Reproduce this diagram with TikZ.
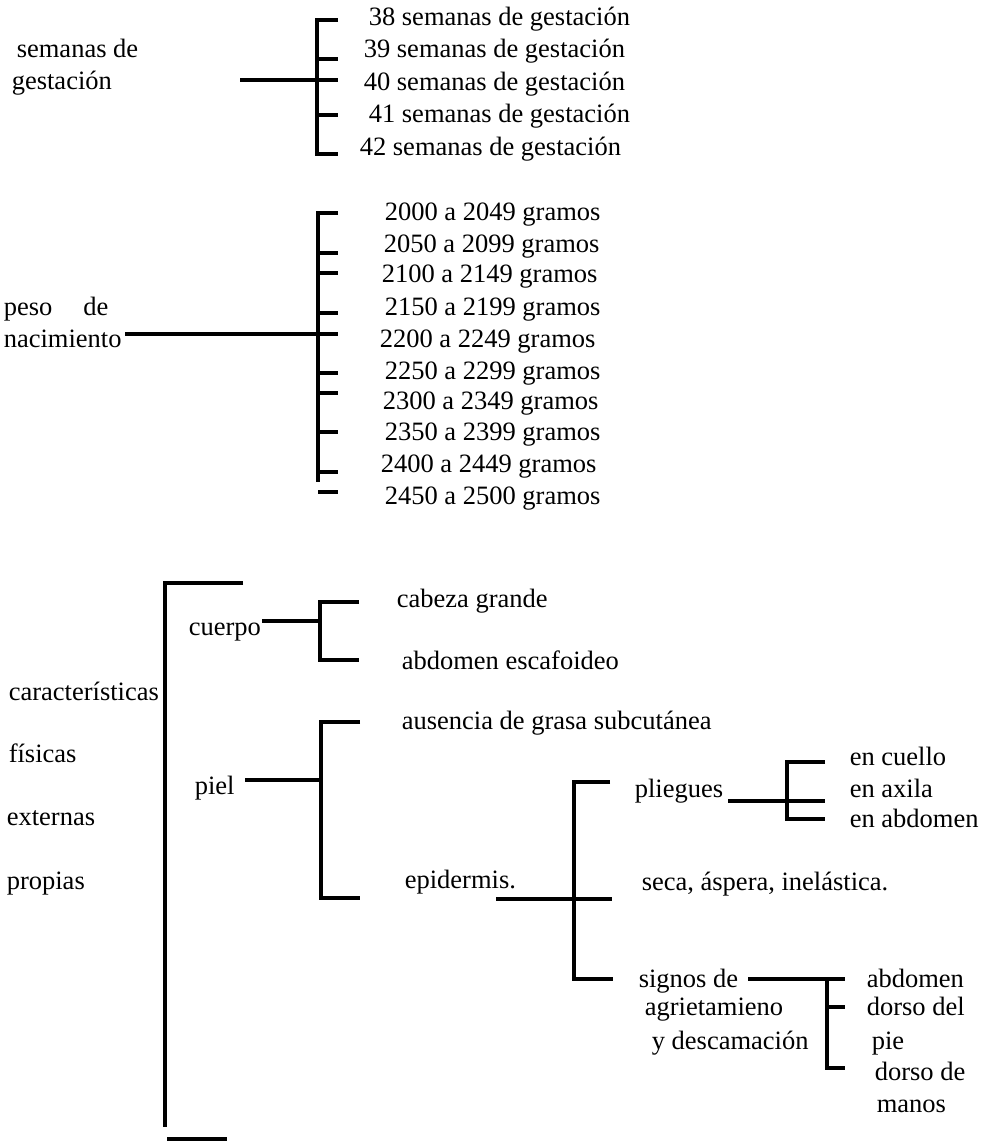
\documentclass[tikz,border=0pt]{standalone}
\usepackage{fontspec}
\setmainfont{Liberation Serif}
\begin{document}
\begin{tikzpicture}[x=1pt,y=-1pt,
  every path/.style={line width=3.6pt},
  lbl/.style={anchor=base west, inner sep=0pt, font=\fontsize{26.5}{30}\selectfont}]
\useasboundingbox (0,0) rectangle (985,1141);

% ---------- semanas de gestacion ----------
\node[lbl] (sg1) at (15,57) {semanas de};
\node[lbl] (sg2) at (10,89) {gestación};
\node[lbl] (w38) at (367,25) {38 semanas de gestación};
\node[lbl] (w39) at (362,57) {39 semanas de gestación};
\node[lbl] (w40) at (362,90) {40 semanas de gestación};
\node[lbl] (w41) at (367,122) {41 semanas de gestación};
\node[lbl] (w42) at (358,155) {42 semanas de gestación};
\coordinate (a0) at (240,80);
\coordinate (a1) at (317,20);
\coordinate (a2) at (317,154);
\draw (a0) -- (a0 -| a1) -- ++(21,0);
\draw (a1) ++(21,0) -- (a1) -- (a2) -- ++(21,0);
\draw (317,59) -- ++(21,0);
\draw (317,115) -- ++(21,0);

% ---------- peso de nacimiento ----------
\node[lbl] (pn1) at (2,315) {peso\hspace*{31pt}de};
\node[lbl] (pn2) at (2,347) {nacimiento};
\node[lbl] (g1) at (383,220) {2000 a 2049 gramos};
\node[lbl] (g2) at (382,252) {2050 a 2099 gramos};
\node[lbl] (g3) at (380,282) {2100 a 2149 gramos};
\node[lbl] (g4) at (383,315) {2150 a 2199 gramos};
\node[lbl] (g5) at (378,347) {2200 a 2249 gramos};
\node[lbl] (g6) at (383,379) {2250 a 2299 gramos};
\node[lbl] (g7) at (381,409) {2300 a 2349 gramos};
\node[lbl] (g8) at (383,440) {2350 a 2399 gramos};
\node[lbl] (g9) at (379,472) {2400 a 2449 gramos};
\node[lbl] (g10) at (383,504) {2450 a 2500 gramos};
\coordinate (b0) at (125,334);
\coordinate (b1) at (318,213);
\coordinate (b2) at (318,482);
\draw (b0) -- (b0 -| b1) -- ++(20,0);
\draw (b1) ++(20,0) -- (b1) -- (b2);
\foreach \yy in {253,273,313,373,393,432,472} \draw (318,\yy) -- ++(20,0);
\draw (318,492) -- ++(20,0);

% ---------- caracteristicas fisicas externas propias ----------
\node[lbl] (c1) at (7,700) {características};
\node[lbl] (c2) at (7,762) {físicas};
\node[lbl] (c3) at (5,825) {externas};
\node[lbl] (c4) at (5,889) {propias};
\coordinate (m1) at (165,583);
\coordinate (m2) at (165,1127);
\draw (m1) ++(78,0) -- (m1) -- (m2);
\draw (167,1139) -- (227,1139);

% cuerpo
\node[lbl] (cu) at (187,635) {cuerpo};
\node[lbl] (cb) at (395,607) {cabeza grande};
\node[lbl] (ab) at (400,669) {abdomen escafoideo};
\coordinate (cu0) at (262,621);
\coordinate (cu1) at (320,602);
\coordinate (cu2) at (320,660);
\draw (cu0) -- (cu0 -| cu1);
\draw (cu1) ++(39,0) -- (cu1) -- (cu2) -- ++(39,0);

% piel
\node[lbl] (pi) at (193,794) {piel};
\node[lbl] (au) at (400,729) {ausencia de grasa subcutánea};
\node[lbl] (ep) at (403,888) {epidermis.};
\coordinate (pi0) at (245,780);
\coordinate (pi1) at (321,722);
\coordinate (pi2) at (321,898);
\draw (pi0) -- (pi0 -| pi1);
\draw (pi1) ++(39,0) -- (pi1) -- (pi2) -- ++(39,0);

% epidermis
\node[lbl] (pl) at (633,797) {pliegues};
\node[lbl] (se) at (640,890) {seca, áspera, inelástica.};
\node[lbl] (sd1) at (637,987) {signos de};
\node[lbl] (sd2) at (643,1015) {agrietamieno};
\node[lbl] (sd3) at (650,1049) {y descamación};
\coordinate (e0) at (496,899);
\coordinate (e1) at (574,782);
\coordinate (e2) at (574,979);
\draw (e0) -- (612,899);
\draw (e1) ++(36,0) -- (e1) -- (e2) -- ++(39,0);

% pliegues
\node[lbl] (pc) at (848,765) {en cuello};
\node[lbl] (pa) at (848,797) {en axila};
\node[lbl] (pb) at (848,827) {en abdomen};
\coordinate (p0) at (728,801);
\coordinate (p1) at (787,762);
\coordinate (p2) at (787,819);
\draw (p0) -- (825,801);
\draw (p1) ++(38,0) -- (p1) -- (p2) -- ++(38,0);

% signos
\node[lbl] (s1) at (865,987) {abdomen};
\node[lbl] (s2) at (865,1015) {dorso del};
\node[lbl] (s3) at (870,1049) {pie};
\node[lbl] (s4) at (873,1080) {dorso de};
\node[lbl] (s5) at (875,1112) {manos};
\coordinate (q0) at (748,979);
\coordinate (q1) at (827,979);
\coordinate (q2) at (827,1068);
\draw (q0) -- (845,979);
\draw (q1) -- (q2) -- ++(18,0);
\draw (827,1007) -- ++(18,0);
\end{tikzpicture}
\end{document}
